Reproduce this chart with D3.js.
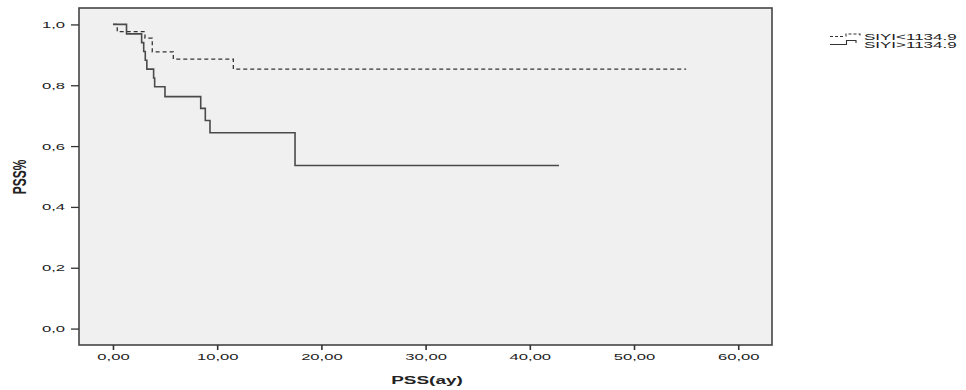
<!DOCTYPE html>
<html>
<head>
<meta charset="utf-8">
<script src="https://cdn.jsdelivr.net/npm/d3@7"></script>
<style>
  body { margin: 0; background: #fff; }
  text { font-family: "Liberation Sans", Arial, sans-serif; fill: #222; }
</style>
</head>
<body>
<div id="chart"></div>
<script>
// Kaplan-Meier curves
const seriesNames = ["SIYI<1134.9", "SIYI>1134.9"];
// SIYI<1134.9 (dashed)
const lowTimes = [0, 0.41, 3.07, 3.77, 5.79, 11.55];
const lowSurv = [1, 0.976, 0.955, 0.91, 0.886, 0.853];
const lowEnd = 55.0;
// SIYI>1134.9 (solid)
const highTimes = [0, 1.3, 2.75, 2.95, 3.1, 3.25, 3.9, 4.0, 4.99, 8.42, 8.86, 9.31, 17.47];
const highSurv = [1, 0.969, 0.94, 0.911, 0.882, 0.853, 0.824, 0.795, 0.7625, 0.724, 0.684, 0.644, 0.536];
const highEnd = 42.8;

const xTicks = [0, 10, 20, 30, 40, 50, 60];
const yTicks = [0, 0.2, 0.4, 0.6, 0.8, 1.0];
const xTitle = "PSS(ay)";
const yTitle = "PSS%";

const W = 966, H = 390;
const plot = { left: 79, top: 8, right: 772, bottom: 345 };
const sx = 1.75; // the original picture is stretched sideways

const svg = d3.select("#chart").append("svg")
  .attr("width", W)
  .attr("height", H);

const x = d3.scaleLinear().domain([-3.26, 63.24]).range([plot.left, plot.right]);
const y = d3.scaleLinear().domain([-0.054, 1.054]).range([plot.bottom, plot.top]);

const loc = d3.formatLocale({ decimal: ",", thousands: ".", grouping: [3], currency: ["", ""] });

// plot area
svg.append("rect")
  .attr("x", plot.left)
  .attr("y", plot.top)
  .attr("width", plot.right - plot.left)
  .attr("height", plot.bottom - plot.top)
  .attr("fill", "#f0f0f0")
  .attr("stroke", "#444")
  .attr("stroke-width", 1.6);

// axes
const xAxis = svg.append("g")
  .attr("transform", `translate(0,${plot.bottom})`)
  .call(d3.axisBottom(x).tickValues(xTicks).tickSize(5).tickSizeOuter(0).tickFormat(loc.format(".2f")));
xAxis.select(".domain").remove();
xAxis.selectAll(".tick line").attr("stroke", "#333").attr("stroke-width", 1.6);
xAxis.selectAll(".tick text")
  .attr("font-size", 9.5)
  .attr("y", 8)
  .attr("fill", "#222")
  .attr("transform", `scale(${sx},1)`);

const yAxis = svg.append("g")
  .attr("transform", `translate(${plot.left},0)`)
  .call(d3.axisLeft(y).tickValues(yTicks).tickSize(8).tickSizeOuter(0).tickFormat(loc.format(".1f")));
yAxis.select(".domain").remove();
yAxis.selectAll(".tick line").attr("stroke", "#333").attr("stroke-width", 1.3);
yAxis.selectAll(".tick text")
  .attr("font-size", 9.5)
  .attr("x", -14 / sx)
  .attr("fill", "#222")
  .attr("transform", `scale(${sx},1)`);

// axis titles
svg.append("g")
  .attr("transform", `translate(427,384) scale(1.65,1)`)
  .append("text")
  .attr("text-anchor", "middle")
  .attr("font-size", 11.5)
  .attr("font-weight", "bold")
  .text(xTitle);

svg.append("g")
  .attr("transform", `translate(26,177) scale(1.6,1)`)
  .append("text")
  .attr("transform", "rotate(-90)")
  .attr("text-anchor", "middle")
  .attr("font-size", 12)
  .attr("font-weight", "bold")
  .text(yTitle);

// step curves
function stepPoints(times, surv, end) {
  const pts = times.map((t, i) => ({ t: t, s: surv[i] }));
  pts.push({ t: end, s: surv[surv.length - 1] });
  return pts;
}

const line = d3.line()
  .x((d) => x(d.t))
  .y((d) => y(d.s))
  .curve(d3.curveStepAfter);

svg.append("path")
  .datum(stepPoints(lowTimes, lowSurv, lowEnd))
  .attr("fill", "none")
  .attr("stroke", "#333")
  .attr("stroke-width", 1.3)
  .attr("stroke-dasharray", "4,3")
  .attr("d", line);

svg.append("path")
  .datum(stepPoints(highTimes, highSurv, highEnd))
  .attr("fill", "none")
  .attr("stroke", "#4a4a4a")
  .attr("stroke-width", 1.6)
  .attr("d", line);

// legend
const legend = svg.append("g");
legend.append("path")
  .attr("d", "M830,36.5 H844 M846,36.5 V34 H860 V36.5")
  .attr("fill", "none")
  .attr("stroke", "#333")
  .attr("stroke-width", 1.1)
  .attr("stroke-dasharray", "3,2");
legend.append("path")
  .attr("d", "M830,44.5 H846.5 V40.5 H856 V43")
  .attr("fill", "none")
  .attr("stroke", "#333")
  .attr("stroke-width", 1.1);

seriesNames.forEach((name, i) => {
  legend.append("g")
    .attr("transform", `translate(864,${39.5 + i * 8.5}) scale(2.0,1)`)
    .append("text")
    .attr("font-size", 8.5)
    .text(name);
});
</script>
</body>
</html>
